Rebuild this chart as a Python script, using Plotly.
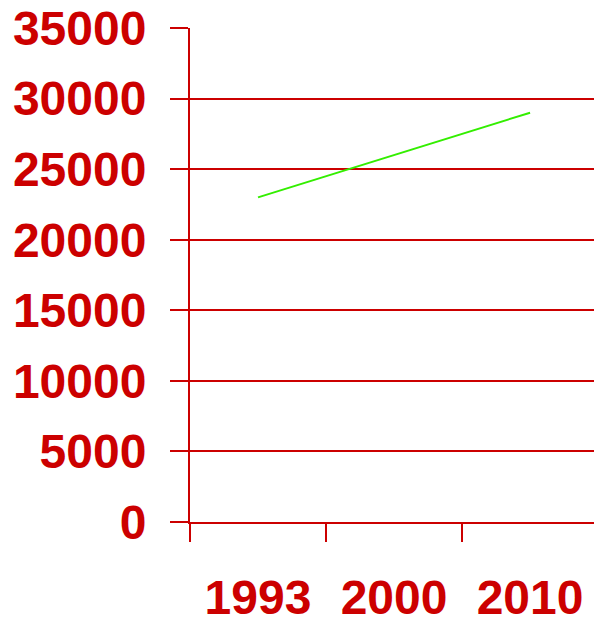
import plotly.graph_objects as go

# ---- data -----------------------------------------------------------------------
years = ["1993", "2000", "2010"]
values = [23000, 26000, 29000]

RED = "#CC0000"
GREEN = "#33EE00"
FONT = "Liberation Sans, Arial, sans-serif"

fig = go.Figure()
fig.add_trace(go.Scatter(
    x=years,
    y=values,
    mode="lines",
    line=dict(color=GREEN, width=2),
    showlegend=False,
))

fig.update_layout(
    width=594,
    height=621,
    margin=dict(l=190, r=0, t=28, b=99),
    paper_bgcolor="white",
    plot_bgcolor="white",
    font=dict(family=FONT, color=RED),
    xaxis=dict(
        type="category",
        range=[-0.5, 2.47],
        automargin=False,
        tickson="boundaries",
        ticks="outside",
        ticklen=18,
        tickwidth=2,
        tickcolor=RED,
        showgrid=False,
        showline=True,
        linecolor=RED,
        linewidth=2,
        tickfont=dict(size=48, color=RED, family=FONT, weight="bold"),
        ticklabelstandoff=32,
        ticklabeloverflow="allow",
    ),
    yaxis=dict(
        range=[0, 35000],
        dtick=5000,
        automargin=False,
        ticks="outside",
        ticklen=18,
        tickwidth=2,
        tickcolor=RED,
        showgrid=True,
        gridcolor=RED,
        gridwidth=2,
        zeroline=True,
        zerolinecolor=RED,
        zerolinewidth=2,
        showline=True,
        linecolor=RED,
        linewidth=2,
        tickformat="d",
        tickfont=dict(size=48, color=RED, family=FONT, weight="bold"),
        ticklabelstandoff=14,
        ticklabeloverflow="allow",
    ),
)

# drop the default page margin so the figure sits at the window's corner
fig.write_html(
    "out.html",
    config={"displayModeBar": False},
    post_script="document.body.style.margin='0';document.body.style.overflow='hidden';",
)
